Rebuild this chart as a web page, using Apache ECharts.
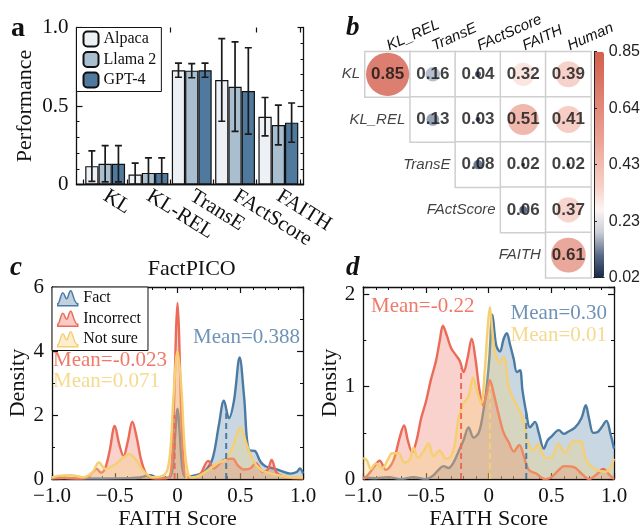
<!DOCTYPE html>
<html>
<head>
<meta charset="utf-8">
<script src="https://cdn.jsdelivr.net/npm/echarts@6/dist/echarts.min.js"></script>
<style>
  html, body { margin: 0; padding: 0; background: #fff; }
  #chart { width: 643px; height: 531px; }
</style>
</head>
<body>
<div id="chart"></div>
<script>
// ---------- data ----------
// panel a: FactPICO performance
const barCats = ['KL', 'KL-REL', 'TransE', 'FActScore', 'FAITH']
const barModels = ['Alpaca', 'Llama 2', 'GPT-4']
const alpacaMean = [0.117, 0.064, 0.728, 0.666, 0.432]
const alpacaErr = [0.097, 0.072, 0.045, 0.263, 0.122]
const llamaMean = [0.132, 0.074, 0.725, 0.623, 0.379]
const llamaErr = [0.115, 0.095, 0.045, 0.285, 0.127]
const gptMean = [0.132, 0.074, 0.728, 0.596, 0.394]
const gptErr = [0.115, 0.095, 0.045, 0.275, 0.125]

// panel b: correlation (upper triangle, row i starts at column i)
const corrRows = ['KL', 'KL_REL', 'TransE', 'FActScore', 'FAITH']
const corrCols = ['KL_REL', 'TransE', 'FActScore', 'FAITH', 'Human']
const corrVals = [
  [0.85, 0.16, 0.04, 0.32, 0.39],
  [0.13, 0.03, 0.51, 0.41],
  [0.08, 0.02, 0.02],
  [0.06, 0.37],
  [0.61]
]
const cbTicks = ['0.02', '0.23', '0.43', '0.64', '0.85']

// panel c: FAITH score density on FactPICO
const cFact = [[-1, 0.03], [-0.95, 0.07], [-0.9, 0.04], [-0.8, 0.02], [-0.6, 0.02], [-0.4, 0.03], [-0.3, 0.05], [-0.22, 0.12], [-0.15, 0.04], [-0.07, 0.04], [-0.04, 0.3], [-0.02, 1.3], [0, 2.2], [0.02, 1.3], [0.04, 0.3], [0.07, 0.05], [0.12, 0.1], [0.17, 0.15], [0.22, 0.25], [0.28, 0.65], [0.33, 1.7], [0.37, 2.45], [0.41, 1.9], [0.45, 2.45], [0.495, 3.8], [0.53, 2.6], [0.57, 0.9], [0.615, 0.88], [0.66, 0.55], [0.7, 0.4], [0.77, 0.33], [0.83, 0.25], [0.9, 0.17], [0.95, 0.22], [0.975, 0.33], [1, 0.18]]
const cIncorrect = [[-1, 0.02], [-0.9, 0.03], [-0.8, 0.02], [-0.72, 0.05], [-0.68, 0.2], [-0.645, 0.32], [-0.61, 0.2], [-0.575, 0.35], [-0.54, 0.9], [-0.5, 1.66], [-0.465, 1.1], [-0.43, 0.72], [-0.395, 1.2], [-0.36, 1.79], [-0.325, 1.3], [-0.29, 0.6], [-0.255, 0.2], [-0.22, 0.05], [-0.15, 0.02], [-0.08, 0.03], [-0.05, 0.3], [-0.03, 2.0], [-0.012, 4.6], [0, 5.5], [0.012, 4.6], [0.03, 2.0], [0.05, 0.4], [0.07, 0.06], [0.12, 0.05], [0.18, 0.15], [0.245, 0.57], [0.29, 0.33], [0.34, 0.5], [0.38, 0.62], [0.44, 0.64], [0.48, 0.43], [0.53, 0.3], [0.58, 0.33], [0.625, 0.5], [0.68, 0.22], [0.72, 0.3], [0.75, 0.6], [0.79, 0.2], [0.85, 0.07], [0.9, 0.04], [1, 0.02]]
const cNotSure = [[-1, 0.05], [-0.95, 0.1], [-0.85, 0.12], [-0.75, 0.06], [-0.68, 0.2], [-0.625, 0.52], [-0.575, 0.32], [-0.5, 0.45], [-0.44, 0.65], [-0.385, 0.78], [-0.33, 0.6], [-0.27, 0.25], [-0.2, 0.06], [-0.12, 0.1], [-0.08, 0.3], [-0.055, 1.0], [-0.03, 2.7], [0, 4.0], [0.03, 2.9], [0.055, 1.1], [0.08, 0.25], [0.11, 0.05], [0.17, 0.1], [0.25, 0.3], [0.32, 0.5], [0.38, 0.6], [0.44, 1.0], [0.5, 1.62], [0.55, 1.1], [0.6, 0.6], [0.66, 0.3], [0.72, 0.2], [0.8, 0.12], [0.9, 0.06], [1, 0.05]]
const cMeans = [0.388, -0.023, 0.071]
const cMeanTops = [2.1, 2.0, 0.4]
const cMeanText = ['Mean=0.388', 'Mean=-0.023', 'Mean=0.071']

// panel d: FAITH score density, second dataset
const dFact = [[-1, 0.02], [-0.9, 0.01], [-0.8, 0.02], [-0.7, 0.0], [-0.6, 0.02], [-0.5, 0.0], [-0.45, 0.03], [-0.4, 0.1], [-0.36, 0.14], [-0.32, 0.12], [-0.28, 0.18], [-0.24, 0.3], [-0.2, 0.42], [-0.16, 0.56], [-0.12, 0.45], [-0.08, 0.5], [-0.05, 0.67], [-0.02, 0.95], [0.005, 1.3], [0.03, 1.78], [0.06, 1.45], [0.09, 1.38], [0.12, 1.52], [0.145, 1.58], [0.17, 1.46], [0.2, 1.3], [0.225, 1.16], [0.25, 1.18], [0.27, 0.96], [0.3, 0.72], [0.33, 0.56], [0.37, 0.62], [0.4, 0.5], [0.44, 0.33], [0.47, 0.42], [0.5, 0.46], [0.56, 0.53], [0.6, 0.49], [0.63, 0.51], [0.69, 0.56], [0.74, 0.66], [0.775, 0.8], [0.8, 0.66], [0.835, 0.5], [0.87, 0.51], [0.9, 0.56], [0.94, 0.63], [0.97, 0.5], [1, 0.33]]
const dIncorrect = [[-1, 0.0], [-0.96, 0.05], [-0.92, 0.12], [-0.87, 0.2], [-0.82, 0.1], [-0.76, 0.2], [-0.71, 0.45], [-0.675, 0.58], [-0.645, 0.42], [-0.61, 0.29], [-0.575, 0.42], [-0.54, 0.65], [-0.5, 0.84], [-0.46, 1.08], [-0.42, 1.28], [-0.39, 1.5], [-0.365, 1.66], [-0.335, 1.56], [-0.3, 1.42], [-0.26, 1.34], [-0.23, 1.28], [-0.2, 1.16], [-0.17, 1.3], [-0.135, 1.52], [-0.105, 1.3], [-0.075, 0.98], [-0.045, 0.8], [-0.02, 0.9], [0.01, 1.07], [0.045, 0.9], [0.08, 0.7], [0.12, 0.5], [0.16, 0.4], [0.2, 0.3], [0.245, 0.37], [0.28, 0.25], [0.32, 0.1], [0.38, 0.06], [0.45, 0.0], [0.5, 0.02], [0.56, 0.1], [0.6, 0.14], [0.68, 0.13], [0.74, 0.06], [0.8, 0.0], [0.86, 0.05], [0.915, 0.11], [0.96, 0.05], [1, 0.0]]
const dNotSure = [[-1, 0.23], [-0.97, 0.2], [-0.94, 0.11], [-0.9, 0.17], [-0.85, 0.12], [-0.8, 0.22], [-0.77, 0.28], [-0.72, 0.28], [-0.67, 0.18], [-0.63, 0.21], [-0.6, 0.34], [-0.565, 0.23], [-0.52, 0.3], [-0.48, 0.39], [-0.44, 0.25], [-0.39, 0.31], [-0.34, 0.22], [-0.3, 0.25], [-0.27, 0.38], [-0.24, 0.66], [-0.2, 0.82], [-0.16, 0.9], [-0.125, 1.1], [-0.09, 0.94], [-0.06, 0.82], [-0.03, 1.2], [-0.01, 1.6], [0.01, 1.86], [0.03, 1.6], [0.05, 1.38], [0.09, 1.26], [0.12, 1.32], [0.16, 1.0], [0.2, 0.86], [0.24, 0.76], [0.28, 0.62], [0.31, 0.42], [0.355, 0.31], [0.395, 0.38], [0.44, 0.25], [0.5, 0.23], [0.555, 0.38], [0.61, 0.28], [0.665, 0.4], [0.73, 0.41], [0.78, 0.2], [0.85, 0.11], [0.93, 0.08], [0.97, 0.12], [1, 0.22]]
const dMeans = [0.30, -0.22, 0.01]
const dMeanTops = [0.72, 1.2, 1.0]
const dMeanText = ['Mean=0.30', 'Mean=-0.22', 'Mean=0.01']

const densityNames = ['Fact', 'Incorrect', 'Not sure']

// ---------- style ----------
const SERIF = 'Liberation Serif'
const SANS = 'Liberation Sans'
const barColors = ['#edf0f5', '#a9bfcf', '#4f7a9e']
const kdeColors = ['#4b7aa3', '#ec6a58', '#f5cf72']
const kdeText = ['#6e93b6', '#f07a69', '#f7d98e']
const barGapFrac = 0.08
const kdeIcon = 'path://M0,16 L0,14 C2,14 3,3 5,3 C7,3 7,9 9,9 C10.5,9 11,1 13,1 C15,1 16,14 20,14 L20,16 Z'

const chart = echarts.init(document.getElementById('chart'), null, { renderer: 'canvas' })

const frameLine = { show: true, lineStyle: { color: '#111', width: 1.3 } }
const noLine = { show: false }

function xValueAxis(grid, pos, labels) {
  return {
    type: 'value', gridIndex: grid, position: pos, min: -1, max: 1, interval: 0.5,
    axisLine: Object.assign({ onZero: false }, frameLine),
    axisTick: { show: true, inside: true, length: 6, lineStyle: { color: '#111', width: 1.2 } },
    minorTick: { show: true, splitNumber: 5, length: 3, lineStyle: { color: '#111', width: 1 } },
    splitLine: noLine,
    axisLabel: labels ? {
      show: true, margin: 7, fontFamily: SERIF, fontSize: 21, color: '#111',
      formatter: v => v === 0 ? '0' : (v < 0 ? '\u2212' + Math.abs(v).toFixed(1) : v.toFixed(1))
    } : { show: false },
    name: labels ? 'FAITH Score' : '', nameLocation: 'middle', nameGap: 27,
    nameTextStyle: { fontFamily: SERIF, fontSize: 22, color: '#111' }
  }
}

function yValueAxis(grid, pos, max, interval, minorSplit, labels, name, nameGap) {
  return {
    type: 'value', gridIndex: grid, position: pos, min: 0, max: max, interval: interval,
    axisLine: Object.assign({ onZero: false }, frameLine),
    axisTick: { show: true, inside: true, length: 6, lineStyle: { color: '#111', width: 1.2 } },
    minorTick: { show: true, splitNumber: minorSplit, length: 3, lineStyle: { color: '#111', width: 1 } },
    splitLine: noLine,
    axisLabel: labels ? {
      show: true, margin: 8, fontFamily: SERIF, fontSize: 21, color: '#111',
      formatter: labels
    } : { show: false },
    name: name || '', nameLocation: 'middle', nameGap: nameGap || 0,
    nameTextStyle: { fontFamily: SERIF, fontSize: 22, color: '#111' }
  }
}

const intLabel = v => Number.isInteger(v) ? String(v) : ''

// ---------- series ----------
const barMeans = [alpacaMean, llamaMean, gptMean]
const barErrs = [alpacaErr, llamaErr, gptErr]

const series = []
barModels.forEach((name, k) => {
  series.push({
    name: name, type: 'bar', xAxisIndex: 2, yAxisIndex: 2,
    data: barMeans[k], barGap: '0%', barCategoryGap: (barGapFrac * 100) + '%',
    itemStyle: { color: barColors[k], borderColor: '#111', borderWidth: 1.2 },
    emphasis: { disabled: true }
  })
})

// error bars
const errData = []
barCats.forEach((c, i) => barModels.forEach((m, k) => errData.push([i, k, barMeans[k][i], barErrs[k][i]])))
series.push({
  type: 'custom', xAxisIndex: 2, yAxisIndex: 2, data: errData, z: 5, clip: true,
  renderItem(params, api) {
    const cat = api.value(0), k = api.value(1), m = api.value(2), e = api.value(3)
    const band = api.size([1, 0])[0]
    const bw = band * (1 - barGapFrac) / 3
    const cx = api.coord([cat, 0])[0] + (k - 1) * bw
    const top = api.coord([cat, m + e])[1]
    const bot = api.coord([cat, Math.max(0, m - e)])[1]
    const cap = 3.5
    const st = { stroke: '#1a1a1a', lineWidth: 1.7 }
    return {
      type: 'group', children: [
        { type: 'line', shape: { x1: cx, y1: top, x2: cx, y2: bot }, style: st },
        { type: 'line', shape: { x1: cx - cap, y1: top, x2: cx + cap, y2: top }, style: st },
        { type: 'line', shape: { x1: cx - cap, y1: bot, x2: cx + cap, y2: bot }, style: st }
      ]
    }
  }
})

// correlation cells
const cellData = []
const circleData = []
corrVals.forEach((row, r) => row.forEach((v, j) => {
  cellData.push([r + j, r, 0])
  circleData.push([r + j, r, v])
}))
series.push({
  type: 'heatmap', xAxisIndex: 4, yAxisIndex: 3, data: cellData,
  itemStyle: { color: '#ffffff', borderColor: '#cfcfcf', borderWidth: 1.5 },
  emphasis: { disabled: true }
})
series.push({
  type: 'scatter', xAxisIndex: 4, yAxisIndex: 3, data: circleData, z: 3,
  symbolSize: v => 48 * Math.pow(v[2], 0.65),
  label: {
    show: true, position: 'inside', formatter: p => p.value[2].toFixed(2),
    fontFamily: SANS, fontWeight: 'bold', fontSize: 17, color: '#111'
  },
  emphasis: { disabled: true }
})
series.push({
  type: 'scatter', xAxisIndex: 4, yAxisIndex: 3,
  data: corrRows.map((r, i) => [i, i, r]), symbolSize: 1,
  itemStyle: { color: 'rgba(0,0,0,0)' },
  label: {
    show: true, position: 'left', distance: 27, formatter: p => p.value[2],
    fontFamily: SANS, fontStyle: 'italic', fontSize: 15, color: '#111'
  },
  emphasis: { disabled: true }
})

// density panels
function addDensity(curves, means, tops, xIdx, yIdx) {
  curves.forEach((d, k) => {
    series.push({
      name: densityNames[k], type: 'line', xAxisIndex: xIdx, yAxisIndex: yIdx,
      data: d, smooth: 0.35, showSymbol: false, z: 3 + k,
      lineStyle: { color: kdeColors[k], width: 2.4 },
      itemStyle: { color: kdeColors[k] },
      areaStyle: { color: kdeColors[k], opacity: 0.3 },
      emphasis: { disabled: true }
    })
  })
  means.forEach((m, k) => {
    series.push({
      type: 'line', xAxisIndex: xIdx, yAxisIndex: yIdx, z: 8,
      data: [[m, 0], [m, tops[k]]], showSymbol: false,
      lineStyle: { color: kdeColors[k], width: 2, type: [6, 4] },
      emphasis: { disabled: true }
    })
  })
}
addDensity([cFact, cIncorrect, cNotSure], cMeans, cMeanTops, 7, 6)
addDensity([dFact, dIncorrect, dNotSure], dMeans, dMeanTops, 9, 8)

// ---------- text ----------
function txt(x, y, s, opt) {
  return {
    type: 'text', x: x, y: y, z: 100,
    style: Object.assign({ text: s, fontFamily: SERIF, fontSize: 21, verticalAlign: 'middle', align: 'left', fill: '#111' }, opt || {})
  }
}
const graphics = [
  txt(11, 29, 'a', { fontSize: 28, fontWeight: 'bold' }),
  txt(346, 28, 'b', { fontSize: 27, fontWeight: 'bold', fontStyle: 'italic' }),
  txt(10, 268, 'c', { fontSize: 27, fontWeight: 'bold', fontStyle: 'italic' }),
  txt(346, 268, 'd', { fontSize: 27, fontWeight: 'bold', fontStyle: 'italic' }),
  txt(300, 337.5, cMeanText[0], { align: 'right', fill: kdeText[0] }),
  txt(53, 360.5, cMeanText[1], { fill: kdeText[1] }),
  txt(53, 381.5, cMeanText[2], { fill: kdeText[2] }),
  txt(607, 313.5, dMeanText[0], { align: 'right', fill: kdeText[0] }),
  txt(371, 306, dMeanText[1], { fill: kdeText[1] }),
  txt(607, 335, dMeanText[2], { align: 'right', fill: kdeText[2] })
]

// ---------- option ----------
const option = {
  animation: false,
  backgroundColor: '#fff',
  textStyle: { fontFamily: SERIF },
  grid: [
    { left: 76.5, top: 27.5, width: 227, height: 157 },           // a frame
    { left: 83.5, top: 27.5, width: 216.5, height: 157 },         // a bars
    { left: 365, top: 51.7, width: 226, height: 226 },            // b cells
    { left: 594, top: 51.7, width: 10, height: 226 },             // b colorbar
    { left: 52, top: 287, width: 251, height: 198 },              // c
    { left: 363.3, top: 287, width: 250.7, height: 197 }          // d
  ],
  xAxis: [
    { type: 'value', gridIndex: 0, position: 'bottom', min: 0, max: 1, axisLine: frameLine, axisTick: noLine, axisLabel: noLine, splitLine: noLine },
    { type: 'value', gridIndex: 0, position: 'top', min: 0, max: 1, axisLine: frameLine, axisTick: noLine, axisLabel: noLine, splitLine: noLine },
    {
      type: 'category', gridIndex: 1, position: 'bottom', data: barCats,
      axisLine: noLine, axisTick: { show: true, inside: true, length: 5, lineStyle: { color: '#111', width: 1.2 } },
      axisLabel: { rotate: -32, margin: 10, fontFamily: SERIF, fontSize: 21, color: '#111', interval: 0 },
      name: 'FactPICO', nameLocation: 'middle', nameGap: 74,
      nameTextStyle: { fontFamily: SERIF, fontSize: 22, color: '#111' }
    },
    {
      type: 'category', gridIndex: 1, position: 'top', data: barCats,
      axisLine: noLine, axisTick: { show: true, inside: true, length: 5, lineStyle: { color: '#111', width: 1.2 } },
      axisLabel: noLine
    },
    {
      type: 'category', gridIndex: 2, position: 'top', data: corrCols,
      axisLine: noLine, axisTick: noLine, splitLine: noLine,
      axisLabel: { rotate: -24, margin: 5, interval: 0, fontFamily: SANS, fontStyle: 'italic', fontSize: 15, color: '#111' }
    },
    { type: 'value', gridIndex: 3, position: 'bottom', min: 0, max: 1, axisLine: { show: true, lineStyle: { color: '#222', width: 1 } }, axisTick: noLine, axisLabel: noLine, splitLine: noLine, z: 10 },
    { type: 'value', gridIndex: 3, position: 'top', min: 0, max: 1, axisLine: { show: true, lineStyle: { color: '#222', width: 1 } }, axisTick: noLine, axisLabel: noLine, splitLine: noLine, z: 10 },
    xValueAxis(4, 'bottom', true),
    xValueAxis(4, 'top', false),
    xValueAxis(5, 'bottom', true),
    xValueAxis(5, 'top', false)
  ],
  yAxis: [
    yValueAxis(0, 'left', 1, 0.5, 5, v => v === 0 ? '0' : v.toFixed(1), 'Performance', 40),
    yValueAxis(0, 'right', 1, 0.5, 5, null),
    { type: 'value', gridIndex: 1, min: 0, max: 1, show: false },
    { type: 'category', gridIndex: 2, data: corrRows, inverse: true, show: false },
    { type: 'value', gridIndex: 3, position: 'left', min: 0, max: 4, interval: 1, axisLine: { show: true, lineStyle: { color: '#222', width: 1 } }, axisTick: noLine, axisLabel: noLine, splitLine: noLine, z: 10 },
    {
      type: 'value', gridIndex: 3, position: 'right', min: 0, max: 4, interval: 1, z: 10,
      axisLine: { show: true, lineStyle: { color: '#222', width: 1 } },
      axisTick: { show: true, length: 3, lineStyle: { color: '#222' } },
      splitLine: noLine,
      axisLabel: { margin: 5, fontFamily: SANS, fontSize: 16, color: '#222', formatter: v => cbTicks[v] }
    },
    yValueAxis(4, 'left', 6, 2, 2, intLabel, 'Density', 22),
    yValueAxis(4, 'right', 6, 2, 2, null),
    yValueAxis(5, 'left', 2.08, 1, 2, intLabel, 'Density', 22),
    yValueAxis(5, 'right', 2.08, 1, 2, null)
  ],
  visualMap: {
    type: 'continuous', seriesIndex: 5, dimension: 2, min: 0.02, max: 0.85,
    calculable: false, left: 594, top: 51.7, itemWidth: 10, itemHeight: 226, padding: 0,
    inRange: { color: ['#17294a', '#5a6b88', '#c9ced8', '#fdf4f2', '#f7d1c8', '#f2bcb0', '#eba597', '#e69384', '#e08171', '#d96f5e', '#d35f4c'] }
  },
  legend: [
    {
      data: barModels, left: 76.5, top: 27.5, orient: 'vertical',
      itemWidth: 15, itemHeight: 15, itemGap: 3.5, icon: 'roundRect',
      padding: [3, 5, 3, 6], borderColor: '#111', borderWidth: 1, backgroundColor: '#fff',
      textStyle: { fontFamily: SERIF, fontSize: 16, color: '#111' }, z: 20
    },
    {
      data: densityNames.map((n, k) => ({
        name: n, icon: kdeIcon,
        itemStyle: { color: echarts.color.modifyAlpha(kdeColors[k], 0.35), borderColor: kdeColors[k], borderWidth: 1.5 }
      })),
      left: 52, top: 287, orient: 'vertical', itemWidth: 21, itemHeight: 15, itemGap: 4,
      padding: [3, 7, 3, 5], borderColor: '#111', borderWidth: 1, backgroundColor: '#fff',
      textStyle: { fontFamily: SERIF, fontSize: 16, color: '#111' }, z: 20
    }
  ],
  graphic: graphics,
  series: series
}

chart.setOption(option)
</script>
</body>
</html>
